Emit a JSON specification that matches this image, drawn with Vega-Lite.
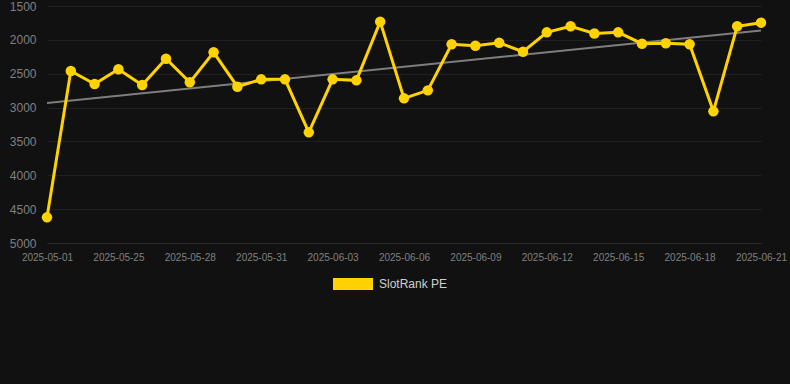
{
  "$schema": "https://vega.github.io/schema/vega-lite/v6.json",
  "width": 714,
  "height": 237,
  "autosize": "none",
  "padding": {"left": 47, "top": 6, "right": 29, "bottom": 141},
  "background": "#111111",
  "config": {
    "view": {"stroke": null},
    "font": "Liberation Sans",
    "axis": {"gridColor": "#202020", "gridWidth": 1, "ticks": false, "domain": false, "labelColor": "#808080", "title": null}
  },
  "datasets": {
    "series": [
      {"idx": 0, "date": "2025-05-01", "value": 4621},
      {"idx": 1, "date": "2025-05-23", "value": 2460},
      {"idx": 2, "date": "2025-05-24", "value": 2652},
      {"idx": 3, "date": "2025-05-25", "value": 2435},
      {"idx": 4, "date": "2025-05-26", "value": 2667},
      {"idx": 5, "date": "2025-05-27", "value": 2278},
      {"idx": 6, "date": "2025-05-28", "value": 2627},
      {"idx": 7, "date": "2025-05-29", "value": 2184},
      {"idx": 8, "date": "2025-05-30", "value": 2692},
      {"idx": 9, "date": "2025-05-31", "value": 2583},
      {"idx": 10, "date": "2025-06-01", "value": 2583},
      {"idx": 11, "date": "2025-06-02", "value": 3366},
      {"idx": 12, "date": "2025-06-03", "value": 2583},
      {"idx": 13, "date": "2025-06-04", "value": 2598},
      {"idx": 14, "date": "2025-06-05", "value": 1731},
      {"idx": 15, "date": "2025-06-06", "value": 2864},
      {"idx": 16, "date": "2025-06-07", "value": 2746},
      {"idx": 17, "date": "2025-06-08", "value": 2066},
      {"idx": 18, "date": "2025-06-09", "value": 2086},
      {"idx": 19, "date": "2025-06-10", "value": 2042},
      {"idx": 20, "date": "2025-06-11", "value": 2175},
      {"idx": 21, "date": "2025-06-12", "value": 1889},
      {"idx": 22, "date": "2025-06-13", "value": 1800},
      {"idx": 23, "date": "2025-06-14", "value": 1905},
      {"idx": 24, "date": "2025-06-15", "value": 1889},
      {"idx": 25, "date": "2025-06-16", "value": 2057},
      {"idx": 26, "date": "2025-06-17", "value": 2051},
      {"idx": 27, "date": "2025-06-18", "value": 2066},
      {"idx": 28, "date": "2025-06-19", "value": 3056},
      {"idx": 29, "date": "2025-06-20", "value": 1800},
      {"idx": 30, "date": "2025-06-21", "value": 1746}
    ]
  },
  "data": {"name": "series"},
  "encoding": {
    "x": {
      "field": "date",
      "type": "ordinal",
      "sort": null,
      "scale": {
        "type": "point",
        "padding": 0,
        "domain": ["2025-05-01", "2025-05-23", "2025-05-24", "2025-05-25", "2025-05-26", "2025-05-27", "2025-05-28", "2025-05-29", "2025-05-30", "2025-05-31", "2025-06-01", "2025-06-02", "2025-06-03", "2025-06-04", "2025-06-05", "2025-06-06", "2025-06-07", "2025-06-08", "2025-06-09", "2025-06-10", "2025-06-11", "2025-06-12", "2025-06-13", "2025-06-14", "2025-06-15", "2025-06-16", "2025-06-17", "2025-06-18", "2025-06-19", "2025-06-20", "2025-06-21"]
      },
      "axis": {
        "values": ["2025-05-01", "2025-05-25", "2025-05-28", "2025-05-31", "2025-06-03", "2025-06-06", "2025-06-09", "2025-06-12", "2025-06-15", "2025-06-18", "2025-06-21"],
        "labelAngle": 0,
        "labelFontSize": 10,
        "labelPadding": 9,
        "domain": true,
        "domainColor": "#2a2a2a",
        "domainWidth": 1
      }
    },
    "y": {
      "field": "value",
      "type": "quantitative",
      "scale": {"domain": [1500, 5000], "reverse": true, "nice": false, "zero": false},
      "axis": {"values": [1500, 2000, 2500, 3000, 3500, 4000, 4500, 5000], "format": "d", "labelFontSize": 12, "labelPadding": 11}
    }
  },
  "layer": [
    {
      "transform": [
        {"regression": "value", "on": "idx"},
        {"lookup": "idx", "from": {"data": {"name": "series"}, "key": "idx", "fields": ["date"]}}
      ],
      "mark": {"type": "line", "color": "#7e7e7e", "strokeWidth": 2}
    },
    {
      "mark": {"type": "line", "color": "#FFD200", "strokeWidth": 3}
    },
    {
      "mark": {"type": "point", "filled": true, "opacity": 1, "size": 110, "strokeWidth": 0},
      "encoding": {
        "color": {
          "datum": "SlotRank PE",
          "type": "nominal",
          "scale": {"range": ["#FFD200"]},
          "legend": {
            "title": null,
            "orient": "none",
            "legendX": 296,
            "legendY": 268,
            "padding": 0,
            "symbolType": "M-2,-0.6H2V0.6H-2Z",
            "symbolSize": 400,
            "symbolStrokeWidth": 0,
            "symbolOpacity": 1,
            "labelOffset": 16,
            "labelFontSize": 12,
            "labelColor": "#d0d0d0"
          }
        }
      }
    }
  ]
}
